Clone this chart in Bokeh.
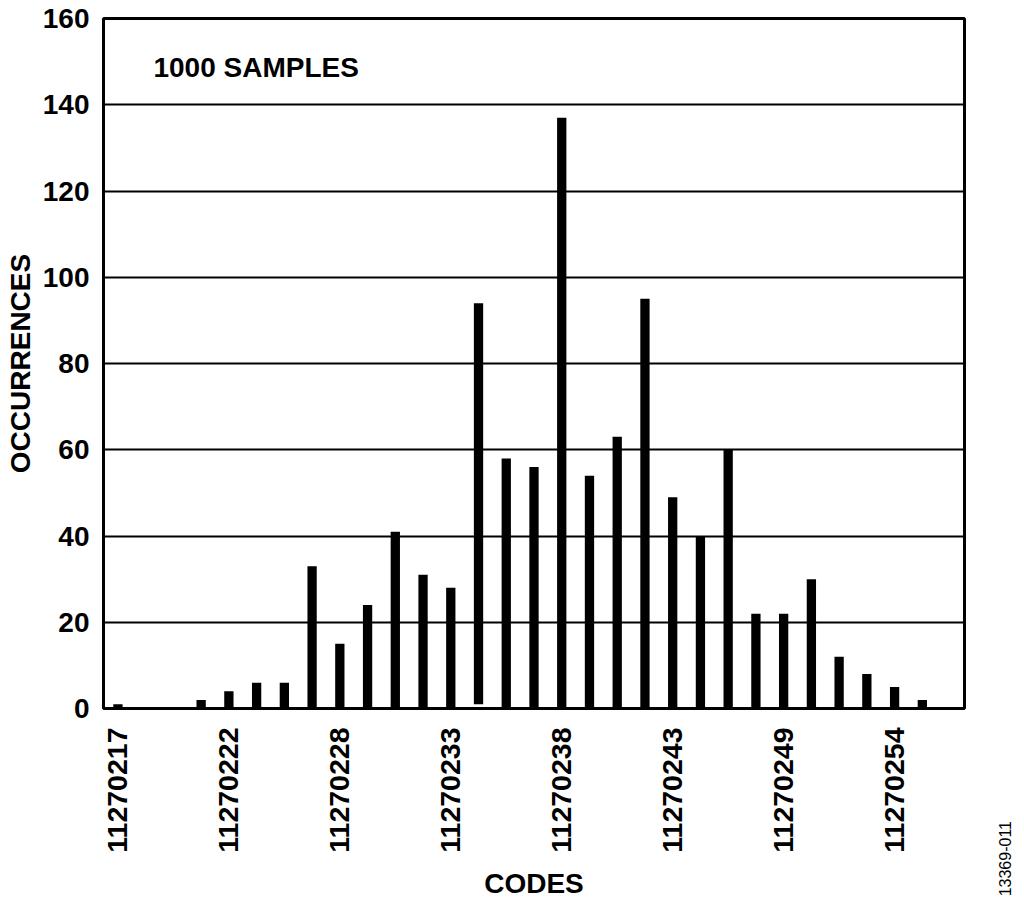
from bokeh.plotting import figure
from bokeh.models import Range1d, FixedTicker, Label, Div
from bokeh.layouts import row
from bokeh.embed import file_html
from bokeh.resources import INLINE
import math

# ---- data ----
counts = [1, 0, 0, 2, 4, 6, 6, 33, 15, 24, 41, 31, 28, 94, 58, 56, 137, 54, 63, 95,
          49, 40, 60, 22, 22, 30, 12, 8, 5, 2]
bottoms = [0] * 13 + [1] + [0] * 16
tick_labels = ["11270217", "11270222", "11270228", "11270233",
               "11270238", "11270243", "11270249", "11270254"]
y_ticks = [0, 20, 40, 60, 80, 100, 120, 140, 160]
fig_code = "13369-011"

FONT = "Liberation Sans"
idx = list(range(len(counts)))
tick_pos = [i * 4 for i in range(len(tick_labels))]

W, H = 985, 905
FL, FB = 103, 708  # frame left / bottom in canvas pixels
p = figure(width=W, height=H, output_backend="svg", toolbar_location=None,
           x_range=Range1d(-0.52, 30.52), y_range=Range1d(0, 160),
           min_border_left=FL, min_border_right=W - 964, min_border_top=18,
           min_border_bottom=H - FB)
p.background_fill_color = "white"
p.border_fill_color = "white"
p.outline_line_color = "black"
p.outline_line_width = 3

p.vbar(x=idx, top=counts, bottom=bottoms, width=0.335, fill_color="black",
       line_color=None)

# grid
p.xgrid.visible = False
p.ygrid.ticker = FixedTicker(ticks=y_ticks)
p.ygrid.grid_line_color = "black"
p.ygrid.grid_line_width = 2

# x axis
p.xaxis.ticker = FixedTicker(ticks=tick_pos)
p.xaxis.major_label_overrides = {t: l for t, l in zip(tick_pos, tick_labels)}
p.xaxis.major_label_orientation = math.pi / 2
p.xaxis.axis_label = "CODES"
p.xaxis.major_tick_in = 0
p.xaxis.major_tick_out = 0
p.xaxis.minor_tick_in = 0
p.xaxis.minor_tick_out = 0
p.xaxis.axis_line_color = None
p.xaxis.major_label_standoff = 19
p.xaxis.axis_label_standoff = 12
p.xaxis.major_label_text_font = FONT
p.xaxis.major_label_text_font_style = "bold"
p.xaxis.major_label_text_font_size = "28.5px"
p.xaxis.major_label_text_color = "black"
p.xaxis.axis_label_text_font = FONT
p.xaxis.axis_label_text_font_style = "bold"
p.xaxis.axis_label_text_font_size = "28px"
p.xaxis.axis_label_text_color = "black"

# y axis
p.yaxis.ticker = FixedTicker(ticks=y_ticks)
p.yaxis.axis_label = "OCCURRENCES"
p.yaxis.major_tick_in = 0
p.yaxis.major_tick_out = 0
p.yaxis.minor_tick_in = 0
p.yaxis.minor_tick_out = 0
p.yaxis.axis_line_color = None
p.yaxis.major_label_standoff = 14
p.yaxis.axis_label_standoff = 4
p.yaxis.major_label_text_font = FONT
p.yaxis.major_label_text_font_style = "bold"
p.yaxis.major_label_text_font_size = "28px"
p.yaxis.major_label_text_color = "black"
p.yaxis.axis_label_text_font = FONT
p.yaxis.axis_label_text_font_style = "bold"
p.yaxis.axis_label_text_font_size = "28px"
p.yaxis.axis_label_text_color = "black"

p.add_layout(Label(x=1.28, y=148.6, text="1000 SAMPLES", text_font=FONT,
                   text_font_style="bold", text_font_size="28px",
                   text_color="black", text_align="left",
                   text_baseline="alphabetic"))

# side strip with the figure code, read bottom-to-top
W2 = 36
span_style = ("display:block; margin:0; padding:0; margin-top:821px; "
              "margin-left:13px; writing-mode:vertical-rl; "
              "transform:rotate(180deg); font-family:'Liberation Sans'; "
              "font-size:16px; line-height:16px; color:black; "
              "white-space:nowrap;")
side = Div(text=f'<span style="{span_style}">{fig_code}</span>',
           width=W2, height=H, margin=0)

layout = row(p, side, spacing=0)
open("out.html", "w").write(file_html(layout, INLINE))
